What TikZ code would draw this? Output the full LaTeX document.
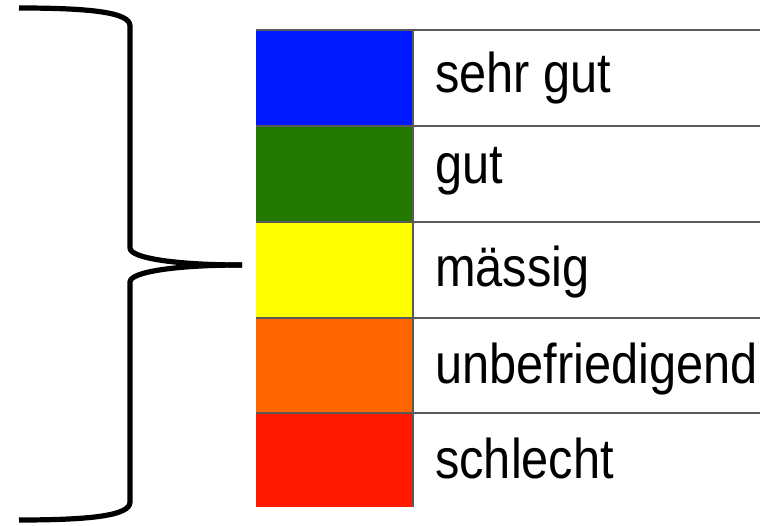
\documentclass[tikz,border=0pt]{standalone}
\usepackage{fontspec}
\setmainfont{Liberation Sans}
\definecolor{cblue}{RGB}{0,24,255}
\definecolor{cgreen}{RGB}{34,120,0}
\definecolor{cyellow}{RGB}{255,255,0}
\definecolor{corange}{RGB}{255,102,0}
\definecolor{cred}{RGB}{255,25,0}
\definecolor{gridgray}{RGB}{90,90,90}
\tikzset{
  lbl/.style={anchor=base west, inner sep=0pt, font=\fontsize{56}{60}\selectfont},
  gridline/.style={draw=gridgray, line width=2.1pt},
  bracepath/.style={draw=black, line width=5.2pt, line cap=butt, line join=round}
}
\newcommand{\sq}[1]{\scalebox{0.87}[1]{#1}}
\begin{document}
\begin{tikzpicture}[x=1pt,y=-1pt]
\useasboundingbox (0,0) rectangle (760,526);
% colour cells
\fill[cblue]   (256,30)  rectangle (413,126);
\fill[cgreen]  (256,126) rectangle (413,222);
\fill[cyellow] (256,222) rectangle (413,318);
\fill[corange] (256,318) rectangle (413,413);
\fill[cred]    (256,413) rectangle (413,507);
% grid
\foreach \yy in {30,126,222,318,413}{
  \draw[gridline] (256,\yy) -- (760,\yy);
}
\draw[gridline] (413,30) -- (413,507);
% labels
\node[lbl] (l1) at (435,93)  {\sq{sehr gut}};
\node[lbl] (l2) at (435,184) {\sq{gut}};
\node[lbl] (l3) at (435,287) {\sq{mässig}};
\node[lbl] (l4) at (435,383) {\sq{unbefriedigend}};
\node[lbl] (l5) at (435,478) {\sq{schlecht}};
% brace
\coordinate (btop) at (19,8);
\coordinate (btip) at (242,265);
\coordinate (bbot) at (19,520);
\draw[bracepath] (btop) .. controls (95,8) and (130,13) .. (130,26)
  -- (130,248) .. controls (130,258) and (175,265) .. (btip);
\draw[bracepath] (btip) .. controls (175,265) and (130,272) .. (130,282)
  -- (130,502) .. controls (130,515) and (95,520) .. (bbot);
\end{tikzpicture}
\end{document}
